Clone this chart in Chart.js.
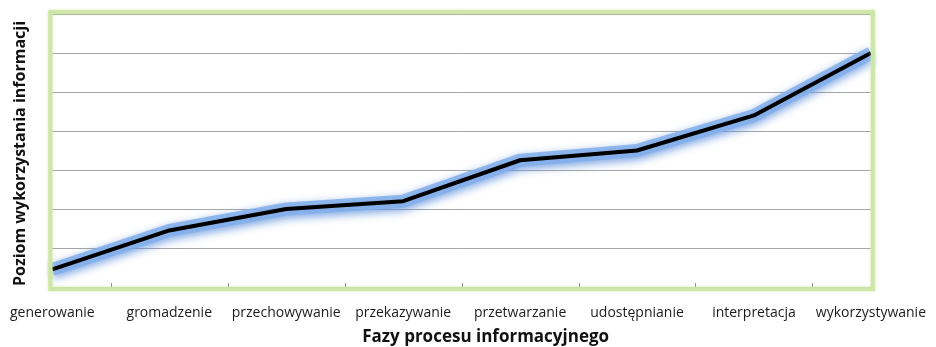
<!DOCTYPE html>
<html>
<head>
<meta charset="utf-8">
<script src="https://cdn.jsdelivr.net/npm/chart.js@4"></script>
<style>
  html, body { margin: 0; padding: 0; background: #ffffff; }
  #wrap { width: 936px; height: 347px; position: relative; }
</style>
</head>
<body>
<div id="wrap"><canvas id="c" width="936" height="347"></canvas></div>
<script>
// Fazy procesu informacyjnego i poziom wykorzystania informacji
const phases = ['generowanie', 'gromadzenie', 'przechowywanie', 'przekazywanie',
                'przetwarzanie', 'udostępnianie', 'interpretacja', 'wykorzystywanie'];
const usageLevel = [0.45, 1.45, 2.0, 2.2, 3.25, 3.5, 4.4, 6.0];
const yMax = 7;

const yTitle = 'Poziom wykorzystania informacji';
const xTitle = 'Fazy procesu informacyjnego';
const FONT = '"Open Sans", "DejaVu Sans", sans-serif';

// green frame around the plot area and small tick marks between categories
const framePlugin = {
  id: 'frame',
  beforeDatasetsDraw(chart) {
    const { ctx, chartArea: a, scales } = chart;
    ctx.save();
    ctx.strokeStyle = '#8c8c8c';
    ctx.lineWidth = 1;
    for (let i = 0; i < phases.length - 1; i++) {
      const x = Math.round(scales.x.getPixelForValue(i + 0.5)) + 0.5;
      ctx.beginPath();
      ctx.moveTo(x, a.bottom);
      ctx.lineTo(x, a.bottom - 4);
      ctx.stroke();
    }
    ctx.restore();
  },
  afterDraw(chart) {
    const { ctx, chartArea: a } = chart;
    ctx.save();
    ctx.strokeStyle = 'rgba(205,230,165,0.9)';
    ctx.lineWidth = 4;
    ctx.shadowColor = 'rgba(200,228,150,0.9)';
    ctx.shadowBlur = 3;
    ctx.strokeRect(a.left - 2, a.top - 2, a.right - a.left + 4, a.bottom - a.top + 4);
    ctx.restore();

    // axis titles
    ctx.save();
    ctx.fillStyle = '#111111';
    ctx.font = 'bold 16px ' + FONT;
    ctx.textAlign = 'center';
    ctx.textBaseline = 'middle';
    ctx.translate(20, (a.top + a.bottom) / 2 + 3);
    ctx.rotate(-Math.PI / 2);
    ctx.fillText(yTitle, 0, 0);
    ctx.restore();

    ctx.save();
    ctx.fillStyle = '#111111';
    ctx.font = 'bold 17px ' + FONT;
    ctx.textAlign = 'center';
    ctx.textBaseline = 'middle';
    ctx.fillText(xTitle, (a.left + a.right) / 2 + 24, 337);
    ctx.restore();
  }
};

// soft blue halo behind the black line
const glowPlugin = {
  id: 'glow',
  beforeDatasetDraw(chart, args) {
    const ctx = chart.ctx;
    ctx.save();
    if (args.index === 1) {
      ctx.shadowColor = 'rgba(95,145,220,0.95)';
      ctx.shadowBlur = 9;
      ctx.shadowOffsetY = 3;
    }
  },
  afterDatasetDraw(chart) {
    chart.ctx.restore();
  }
};

new Chart(document.getElementById('c'), {
  type: 'line',
  data: {
    labels: phases,
    datasets: [
      {
        data: usageLevel,
        order: 0,
        borderColor: '#000000',
        borderWidth: 4,
        pointRadius: 0,
        tension: 0,
        borderJoinStyle: 'round'
      },
      {
        data: usageLevel,
        order: 1,
        borderColor: 'rgba(130,175,235,0.85)',
        borderWidth: 13,
        pointRadius: 0,
        tension: 0,
        borderJoinStyle: 'round',
        borderCapStyle: 'butt'
      }
    ]
  },
  options: {
    responsive: false,
    animation: false,
    layout: { padding: { top: 14, right: 62, left: 0, bottom: 0 } },
    plugins: { legend: { display: false }, tooltip: { enabled: false } },
    scales: {
      x: {
        offset: false,
        grid: { display: false },
        border: { display: true, color: '#a0a0a0', width: 1 },
        ticks: {
          color: '#1c1c1c',
          font: { family: FONT, size: 14 },
          padding: 10,
          maxRotation: 0,
          autoSkip: false
        },
        afterFit(s) { s.height = 60; }
      },
      y: {
        min: 0,
        max: yMax,
        ticks: { display: false, stepSize: 1 },
        grid: { color: '#a6a6a6', lineWidth: 1, drawTicks: false },
        border: { display: false },
        afterFit(s) { s.width = 52; }
      }
    }
  },
  plugins: [framePlugin, glowPlugin]
});
</script>
</body>
</html>
